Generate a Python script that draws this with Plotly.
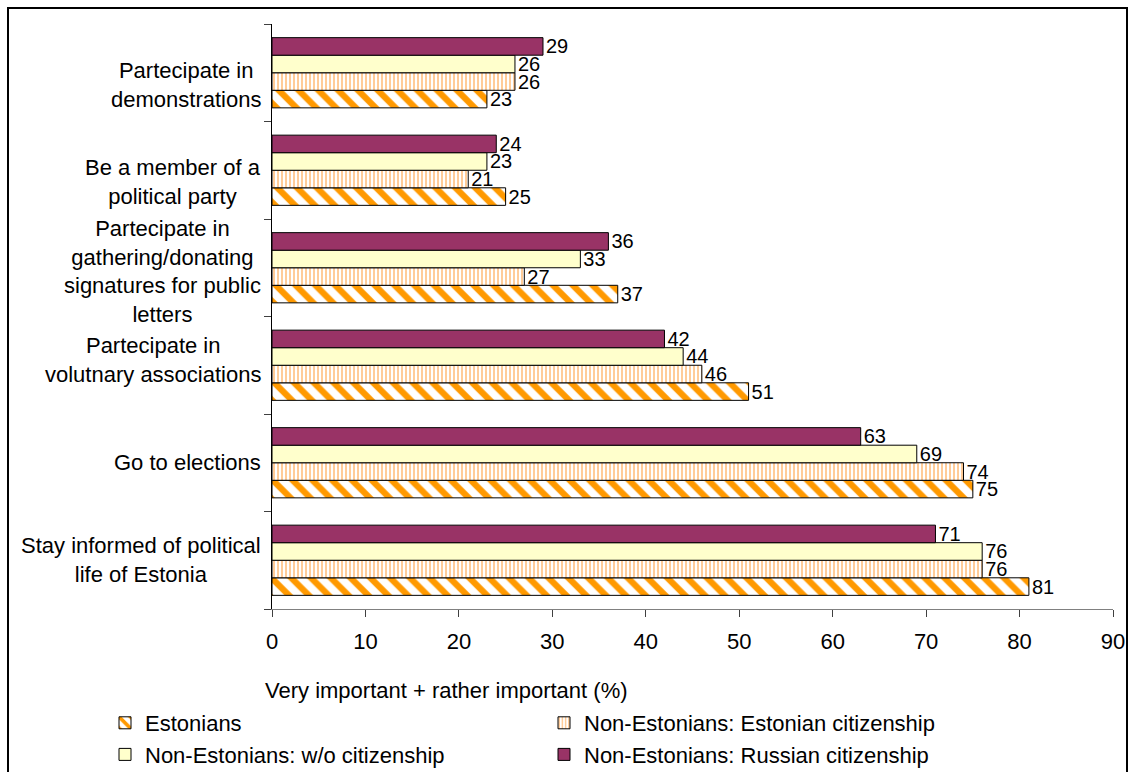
import plotly.graph_objects as go

# Activities, listed top to bottom as they appear on the chart
activities = [
    "Partecipate in<br>demonstrations",
    "Be a member of a<br>political party",
    "Partecipate in<br>gathering/donating<br>signatures for public<br>letters",
    "Partecipate in<br>volutnary associations",
    "Go to elections",
    "Stay informed of political<br>life of Estonia",
]

series_names = [
    "Estonians",
    "Non-Estonians: Estonian citizenship",
    "Non-Estonians: w/o citizenship",
    "Non-Estonians: Russian citizenship",
]

estonians = [23, 25, 37, 51, 75, 81]
non_est_est_citizenship = [26, 21, 27, 46, 74, 76]
non_est_no_citizenship = [26, 23, 33, 44, 69, 76]
non_est_russian_citizenship = [29, 24, 36, 42, 63, 71]

x_ticks = [0, 10, 20, 30, 40, 50, 60, 70, 80, 90]
x_title = "Very important + rather important (%)"

# Vertical nudge (px) of each wrapped category label
label_nudge = [-12, -12, -4, 5, 0, 0]

FONT = "Liberation Sans, Arial, sans-serif"
FS = 22
FS_VAL = 20

styles = [
    dict(color="white", line=dict(color="black", width=1),
         pattern=dict(shape="\\", fgcolor="#FF9900", bgcolor="white",
                      size=14, solidity=0.45, fillmode="replace")),
    dict(color="white", line=dict(color="black", width=1),
         pattern=dict(shape="|", fgcolor="#FFCC99", bgcolor="white",
                      size=4, solidity=0.5, fillmode="replace")),
    dict(color="#FFFFCC", line=dict(color="black", width=1)),
    dict(color="#993366", line=dict(color="black", width=1)),
]

all_values = [estonians, non_est_est_citizenship,
              non_est_no_citizenship, non_est_russian_citizenship]

fig = go.Figure()
for name, vals, st in zip(series_names, all_values, styles):
    fig.add_trace(go.Bar(
        y=activities, x=vals, name=name, orientation="h",
        marker=st, text=[str(v) for v in vals], textposition="outside",
        textfont=dict(family=FONT, size=FS_VAL, color="black"),
        constraintext="none", cliponaxis=False,
    ))

# Left-side category labels, each block centered on its own lines
annotations = []
for act, dy in zip(activities, label_nudge):
    annotations.append(dict(
        x=0, xref="paper", xshift=-9, y=act, yref="y", yshift=dy,
        text=act, showarrow=False, xanchor="right", yanchor="middle",
        align="center", font=dict(family=FONT, size=FS, color="black"),
    ))

L, R, T, B = 272, 16, 24, 163
W, H = 1129, 772
pw, ph = W - L - R, H - T - B

annotations.append(dict(
    x=(263 - L) / pw, xref="paper", y=(H - B - 690) / ph, yref="paper",
    text=x_title, showarrow=False, xanchor="left", yanchor="middle",
    font=dict(family=FONT, size=FS, color="black"),
))

fig.update_layout(
    width=W, height=H,
    margin=dict(l=L, r=R, t=T, b=B, autoexpand=False),
    paper_bgcolor="white", plot_bgcolor="white",
    barmode="group", bargap=0.28, bargroupgap=0,
    font=dict(family=FONT, size=FS, color="black"),
    xaxis=dict(
        range=[0, 90], tickvals=x_ticks, ticktext=[str(t) for t in x_ticks],
        showgrid=False, zeroline=False, showline=True, linecolor="#808080",
        linewidth=1, ticks="outside", ticklen=7, tickcolor="#404040",
        ticklabelstandoff=6,
        tickfont=dict(family=FONT, size=FS, color="black"),
    ),
    yaxis=dict(
        categoryorder="array", categoryarray=list(reversed(activities)),
        showticklabels=False, showgrid=False, zeroline=False,
        showline=True, linecolor="black", linewidth=1,
        ticks="outside", tickson="boundaries", ticklen=7, tickcolor="#404040",
    ),
    legend=dict(
        orientation="h", x=(105 - L) / pw, xanchor="left",
        y=(H - B - 702) / ph, yanchor="top",
        entrywidth=394, entrywidthmode="pixels",
        traceorder="normal", itemwidth=30, tracegroupgap=0,
        font=dict(family=FONT, size=FS, color="black"),
        bgcolor="rgba(0,0,0,0)",
    ),
    annotations=annotations,
    shapes=[dict(
        type="rect", xref="paper", yref="paper",
        x0=(8 - L) / pw, x1=(1127 - L) / pw,
        y0=(H - B - 800) / ph, y1=(H - B - 8) / ph,
        line=dict(color="black", width=2), fillcolor="rgba(0,0,0,0)",
        layer="below",
    )],
    showlegend=True,
)

fig.write_html("out.html")
